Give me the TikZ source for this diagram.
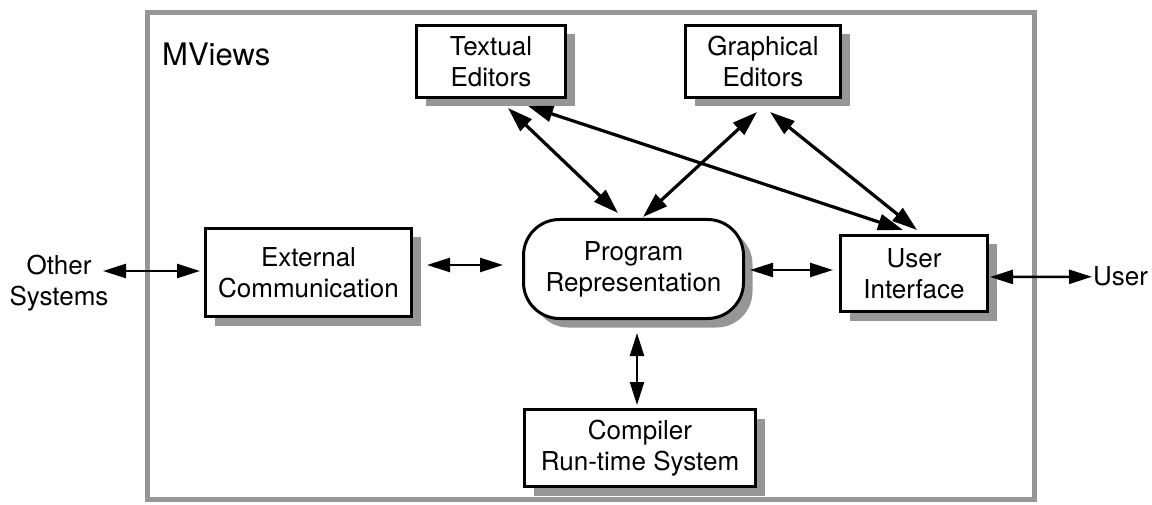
\documentclass[tikz,border=0pt]{standalone}
\usepackage{fontspec}
\setmainfont{TeX Gyre Heros}
\usetikzlibrary{arrows.meta,shadows,calc}
\definecolor{framegray}{RGB}{150,150,150}
\definecolor{shgray}{RGB}{150,150,150}
\begin{document}
\begin{tikzpicture}[x=1pt,y=-1pt,
  txt/.style={font=\fontsize{26}{31}\selectfont, align=center, inner sep=0pt},
  box/.style={txt, draw=black, line width=3pt, fill=white,
    drop shadow={shadow xshift=9pt, shadow yshift=-9pt, fill=shgray, opacity=1}},
  rbox/.style={box, rounded corners=36pt},
  harr/.style={line width=2.4pt, {Triangle[length=23pt,width=14pt]}-{Triangle[length=23pt,width=14pt]}},
  darr/.style={line width=3.2pt, {Triangle[length=25pt,width=16pt]}-{Triangle[length=25pt,width=16pt]}},
  lbl/.style={txt}
]
\useasboundingbox (0,0) rectangle (1152,505);
% frame
\draw[framegray, line width=5pt] (147.5,12.5) rectangle (1034.5,499.5);
\node[lbl, font=\fontsize{31}{36}\selectfont, anchor=base west] (mviews) at (162,66) {MViews};

% boxes
\node[box, minimum width=149pt, minimum height=72pt] (textual) at (491,61.5) {Textual\\Editors};
\node[box, minimum width=155pt, minimum height=72pt] (graphical) at (763,61.5) {Graphical\\Editors};
\node[box, minimum width=206pt, minimum height=88pt] (external) at (308.5,272.5) {External\\Communication};
\node[rbox, minimum width=220pt, minimum height=99pt] (program) at (633.5,269) {Program\\Representation};
\node[box, minimum width=147pt, minimum height=76pt] (ui) at (914,273.5) {User\\Interface};
\node[box, minimum width=231pt, minimum height=77pt] (compiler) at (640,448) {Compiler\\Run-time System};

% outside labels
\node[lbl] (other) at (59,283) {Other\\Systems};
\node[lbl, anchor=base west] (user) at (1093,286) {User};

% connectors
\draw[harr] ($(external.west)+(-101,-1.5)$) -- ($(external.west)+(-4,-1.5)$);
\draw[harr] ($(external.east)+(14,-7.5)$) -- ($(program.west)+(-19,-4)$);
\draw[harr] ($(program.east)+(5,1)$) -- ($(ui.west)+(-6,-3.5)$);
\draw[harr] ($(ui.east)+(1,3.5)$) -- ($(user.west)+(-1,0)$);
\draw[harr] ($(program.south)+(3.5,13)$) -- ($(compiler.north)+(-3,-3)$);
\draw[darr] ($(textual.south)+(17,9)$) -- ($(program.north)+(-15.5,-5)$);
\draw[darr] ($(textual.south)+(37,7)$) -- ($(ui.north)+(-11,-4)$);
\draw[darr] ($(graphical.south)+(-6,13)$) -- ($(program.north)+(9.5,-1)$);
\draw[darr] ($(graphical.south)+(7,13)$) -- ($(ui.north)+(3,-4)$);
\end{tikzpicture}
\end{document}
